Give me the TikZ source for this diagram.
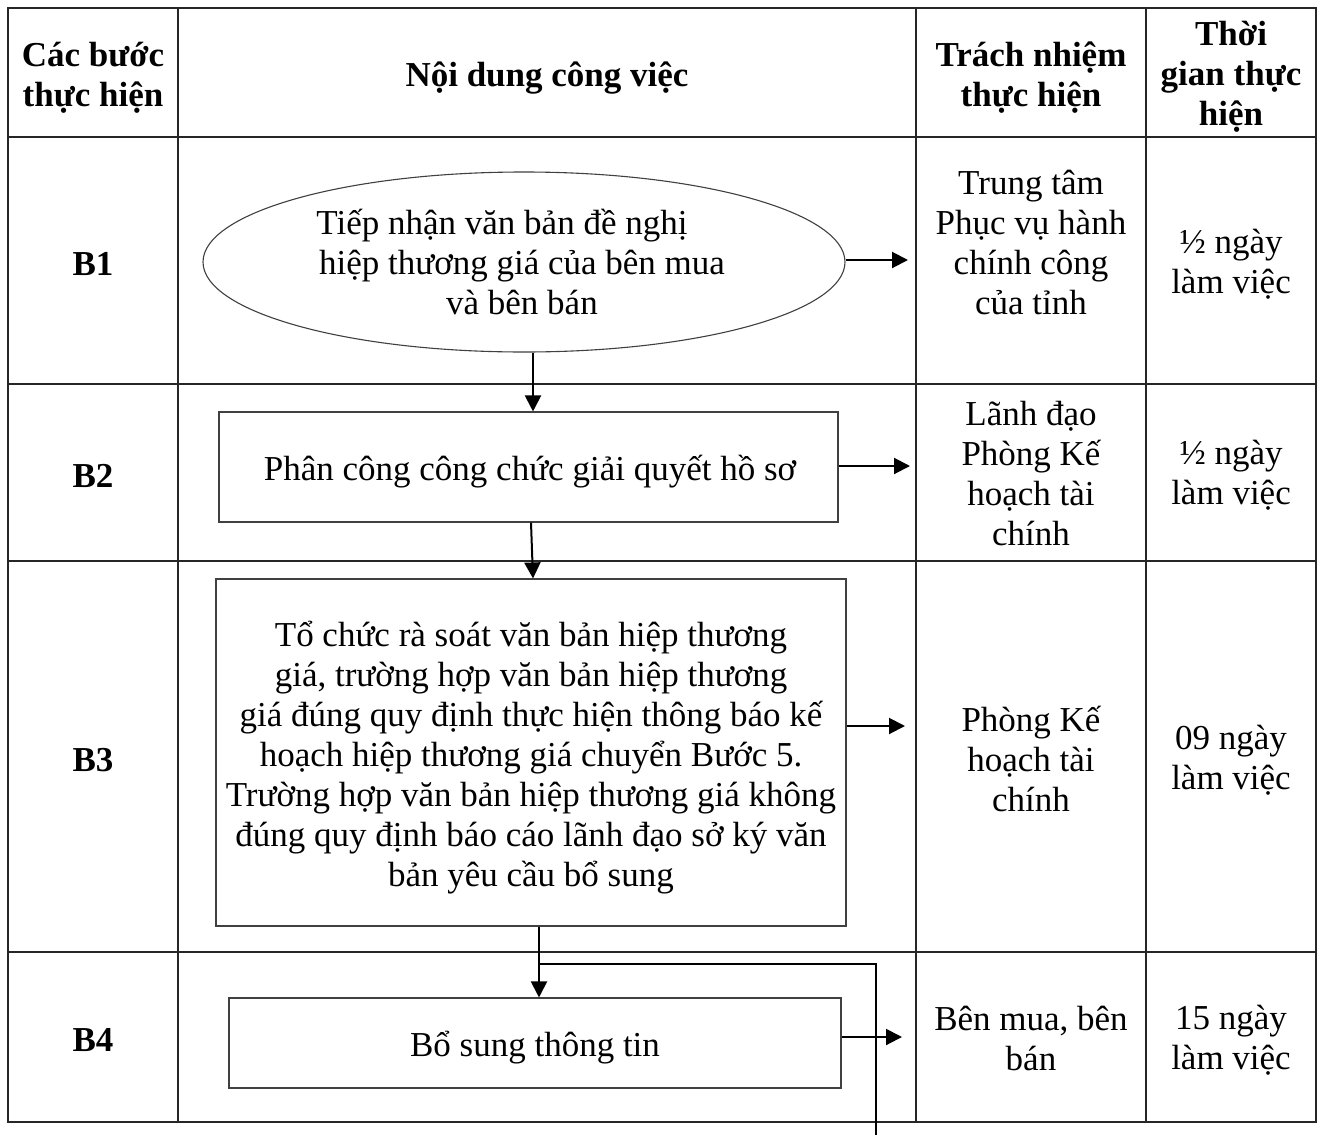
\documentclass[tikz,border=0pt]{standalone}
\usepackage{fontspec}
\setmainfont{Liberation Serif}
\usetikzlibrary{shapes.geometric,arrows.meta}
\begin{document}
\begin{tikzpicture}[x=1pt,y=-1pt,
  every node/.style={font=\fontsize{35}{40}\selectfont, align=center, inner sep=0pt},
  hdr/.style={font=\fontsize{35}{40}\selectfont\bfseries},
  grid/.style={line width=1.6pt, draw=black!85},
  boxst/.style={draw=black!75, line width=1.1pt},
  arr/.style={line width=2pt, -{Triangle[length=16pt,width=16pt]}},
  conn/.style={line width=2pt}]
\useasboundingbox (0,0) rectangle (1324,1135);
\fill[white] (0,0) rectangle (1324,1135);
% table
\draw[grid] (8,8) rectangle (1316,1122);
\draw[grid] (178,8) -- (178,1122);
\draw[grid] (916,8) -- (916,1122);
\draw[grid] (1146,8) -- (1146,1122);
\draw[grid] (8,137) -- (1316,137);
\draw[grid] (8,384) -- (1316,384);
\draw[grid] (8,561) -- (1316,561);
\draw[grid] (8,952) -- (1316,952);
% header
\node[hdr] (h1) at (93,78) {Các bước\\thực hiện};
\node[hdr] (h2) at (547,78) {Nội dung công việc};
\node[hdr] (h3) at (1031,78) {Trách nhiệm\\thực hiện};
\node[hdr] (h4) at (1231,77) {Thời\\gian thực\\hiện};
% step labels
\node[hdr] (s1) at (93,264) {B1};
\node[hdr] (s2) at (93,476) {B2};
\node[hdr] (s3) at (93,760) {B3};
\node[hdr] (s4) at (93,1040) {B4};
% responsibility
\node (r1t) at (1031,242) {Trung tâm\\Phục vụ hành\\chính công\\của tỉnh};
\node (r2t) at (1031,474) {Lãnh đạo\\Phòng Kế\\hoạch tài\\chính};
\node (r3t) at (1031,759) {Phòng Kế\\hoạch tài\\chính};
\node (r4t) at (1031,1038) {Bên mua, bên\\bán};
% time
\node (t1) at (1231,264) {½ ngày\\làm việc};
\node (t2) at (1231,475) {½ ngày\\làm việc};
\node (t3) at (1231,760) {09 ngày\\làm việc};
\node (t4) at (1231,1040) {15 ngày\\làm việc};
% flow
\node[ellipse, boxst, minimum width=642pt, minimum height=180pt] (e1) at (524,262) {};
\node (e1t) at (522,262) {Tiếp nhận văn bản đề nghị\hspace*{40pt}\\hiệp thương giá của bên mua\\và bên bán};
\node[boxst, minimum width=619pt, minimum height=110pt] (b2) at (528.5,467) {};
\node (b2t) at (530,472) {Phân công công chức giải quyết hồ sơ};
\node[boxst, minimum width=630pt, minimum height=347pt] (b3) at (531,752.5) {};
\node (b3t) at (531,758) {Tổ chức rà soát văn bản hiệp thương\\giá, trường hợp văn bản hiệp thương\\giá đúng quy định thực hiện thông báo kế\\hoạch hiệp thương giá chuyển Bước 5.\\Trường hợp văn bản hiệp thương giá không\\đúng quy định báo cáo lãnh đạo sở ký văn\\bản yêu cầu bổ sung};
\node[boxst, minimum width=612pt, minimum height=90pt] (b4) at (535,1043) {};
\node (b4t) at (535,1048) {Bổ sung thông tin};
% arrow targets
\coordinate (r1) at (908,260);
\coordinate (r2) at (910,466);
\coordinate (r3) at (905,726);
\coordinate (r4) at (902,1037);
\coordinate (jn) at (539,964);
\coordinate (fe) at (876,1135);
\draw[arr] (e1.east |- r1) -- (r1);
\draw[arr] (b2.east |- r2) -- (r2);
\draw[arr] (b3.east |- r3) -- (r3);
\draw[arr] (b4.east |- r4) -- (r4);
\draw[arr] ([xshift=4.5pt]b2.north |- e1.south) -- ([xshift=4.5pt]b2.north);
\draw[arr] ([xshift=2.5pt]b2.south) -- ([xshift=2pt]b3.north);
\draw[arr] ([xshift=8pt]b3.south) -- ([xshift=4pt]b4.north);
\draw[conn] (jn) -| (fe);
\end{tikzpicture}
\end{document}
